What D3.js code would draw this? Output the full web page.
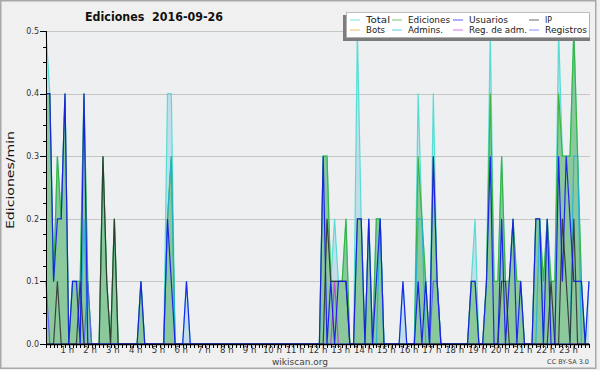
<!DOCTYPE html>
<html>
<head>
<meta charset="utf-8">
<script src="https://cdn.jsdelivr.net/npm/d3@7"></script>
<style>
  body { margin: 0; background: #fff; }
  svg { display: block; }
  text { font-family: "DejaVu Sans", sans-serif; }
</style>
</head>
<body>
<div id="chart"></div>
<script>
// edits per 10 minute slot (144 slots, 00:00 -> 23:50), one row = 4 hours
const total = [
  5,4,1,3,2,4,0,1,1,1,4,1,0,0,0,3,1,0,2,0,0,0,0,0,
  0,1,0,0,0,0,0,0,4,4,0,0,0,1,0,0,0,0,0,0,0,0,0,0,
  0,0,0,0,0,0,0,0,0,0,0,0,0,0,0,0,0,0,0,0,0,0,0,0,
  0,3,3,1,2,1,1,2,0,0,5,2,0,2,0,2,2,0,0,0,0,0,1,0,
  0,0,4,2,1,0,4,1,0,0,0,0,0,0,0,0,1,2,0,0,1,5,1,1,
  3,1,1,2,1,1,0,0,0,2,2,1,2,1,1,5,3,3,3,5,3,1,0,1
];
const ediciones = [
  4,4,1,3,2,4,0,1,1,1,4,1,0,0,0,3,1,0,2,0,0,0,0,0,
  0,1,0,0,0,0,0,0,2,3,0,0,0,0,0,0,0,0,0,0,0,0,0,0,
  0,0,0,0,0,0,0,0,0,0,0,0,0,0,0,0,0,0,0,0,0,0,0,0,
  0,3,3,1,1,1,1,2,0,0,2,2,0,2,0,2,2,0,0,0,0,0,0,0,
  0,0,3,2,1,0,3,1,0,0,0,0,0,0,0,0,1,1,0,0,1,4,1,1,
  3,1,1,2,1,1,0,0,0,2,2,1,2,1,1,4,3,3,3,5,3,1,0,0
];
const usuarios = [
  4,4,1,2,2,4,0,1,1,0,4,0,0,0,0,0,0,0,0,0,0,0,0,0,
  0,1,0,0,0,0,0,0,2,1,0,0,0,1,0,0,0,0,0,0,0,0,0,0,
  0,0,0,0,0,0,0,0,0,0,0,0,0,0,0,0,0,0,0,0,0,0,0,0,
  0,3,0,1,0,1,1,1,0,0,2,2,0,2,0,1,2,0,0,0,0,0,1,0,
  0,0,1,0,1,0,3,1,0,0,0,0,0,0,0,0,1,1,0,0,1,3,0,0,
  2,0,1,2,0,1,0,0,0,2,2,0,2,0,0,3,1,3,2,1,1,1,0,1
];
const ip = [
  0,0,0,1,0,0,0,0,0,1,0,0,0,0,0,3,1,0,2,0,0,0,0,0,
  0,0,0,0,0,0,0,0,0,0,0,0,0,0,0,0,0,0,0,0,0,0,0,0,
  0,0,0,0,0,0,0,0,0,0,0,0,0,0,0,0,0,0,0,0,0,0,0,0,
  0,0,2,1,1,1,1,1,0,0,0,0,0,0,0,0,0,0,0,0,0,0,0,0,
  0,0,0,0,0,0,0,0,0,0,0,0,0,0,0,0,0,0,0,0,0,0,0,0,
  1,1,0,0,0,0,0,0,0,0,0,0,0,1,0,0,2,1,0,2,0,0,0,0
];
const bots = [
  0,0,0,0,0,0,0,0,0,0,0,0,0,0,0,0,0,0,0,0,0,0,0,0,
  0,0,0,0,0,0,0,0,0,0,0,0,0,0,0,0,0,0,0,0,0,0,0,0,
  0,0,0,0,0,0,0,0,0,0,0,0,0,0,0,0,0,0,0,0,0,0,0,0,
  0,0,0,0,0,0,0,0,0,0,0,0,0,0,0,0,0,0,0,0,0,0,0,0,
  0,0,0,0,0,0,0,0,0,0,0,0,0,0,0,0,0,0,0,0,0,0,0,0,
  0,0,0,0,0,0,0,0,0,0,0,0,0,0,0,0,0,0,0,0,0,0,0,0
];
const admins = [
  0,0,0,0,0,0,0,0,0,0,2,0,0,0,0,0,0,0,0,0,0,0,0,0,
  0,0,0,0,0,0,0,0,2,3,0,0,0,0,0,0,0,0,0,0,0,0,0,0,
  0,0,0,0,0,0,0,0,0,0,0,0,0,0,0,0,0,0,0,0,0,0,0,0,
  0,0,0,0,0,0,0,0,0,0,0,0,0,0,0,0,2,0,0,0,0,0,0,0,
  0,0,2,2,0,0,0,0,0,0,0,0,0,0,0,0,0,0,0,0,0,0,0,0,
  0,0,0,0,0,0,0,0,0,0,2,0,0,0,0,0,0,0,0,3,3,0,0,0
];
const regAdm = [
  0,0,0,0,0,0,0,0,0,0,0,0,0,0,0,0,0,0,0,0,0,0,0,0,
  0,0,0,0,0,0,0,0,0,0,0,0,0,0,0,0,0,0,0,0,0,0,0,0,
  0,0,0,0,0,0,0,0,0,0,0,0,0,0,0,0,0,0,0,0,0,0,0,0,
  0,0,0,0,1,0,0,0,0,0,0,0,0,0,0,0,0,0,0,0,0,0,0,0,
  0,0,0,0,0,0,0,0,0,0,0,0,0,0,0,0,0,0,0,0,0,0,0,0,
  0,0,0,0,0,0,0,0,0,0,0,0,0,0,0,0,0,0,0,0,0,0,0,0
];
const registros = [
  1,0,0,0,0,0,0,0,0,0,0,1,0,0,0,0,0,0,0,0,0,0,0,0,
  0,0,0,0,0,0,0,0,0,0,0,0,0,0,0,0,0,0,0,0,0,0,0,0,
  0,0,0,0,0,0,0,0,0,0,0,0,0,0,0,0,0,0,0,0,0,0,0,0,
  0,0,0,0,0,0,0,0,0,0,0,0,0,0,0,0,0,0,0,0,0,0,0,0,
  0,0,0,0,0,0,1,1,0,0,0,0,0,0,0,0,0,0,0,0,0,0,0,0,
  0,0,0,0,0,0,0,0,0,0,0,0,0,0,0,0,0,0,0,0,0,0,0,0
];

const minutesPerSlot = 10;
const slotsPerHour = 6;
const hourLabels = ["1 h","2 h","3 h","4 h","5 h","6 h","7 h","8 h","9 h","10 h","11 h","12 h",
  "13 h","14 h","15 h","16 h","17 h","18 h","19 h","20 h","21 h","22 h","23 h"];
const yTickValues = [0, 0.1, 0.2, 0.3, 0.4, 0.5];
const legendNames = ["Total", "Ediciones", "Usuarios", "IP", "Bots", "Admins.", "Reg. de adm.", "Registros"];

const colors = {
  "Total": "#3fdccf", "Ediciones": "#35b035", "Usuarios": "#1414f0", "IP": "#2b2b2b",
  "Bots": "#f09a30", "Admins.": "#1cb0e0", "Reg. de adm.": "#c83ce0", "Registros": "#5a5aff"
};

const width = 600, height = 370;
const plot = { left: 46, right: 589, top: 31, bottom: 344 };

const svg = d3.select("#chart").append("svg")
  .attr("width", width)
  .attr("height", height);

svg.append("rect").attr("width", width).attr("height", height).attr("fill", "#f0f0f0");
svg.append("rect")
  .attr("x", 0.75).attr("y", 0.75).attr("width", 595).attr("height", 367.5)
  .attr("fill", "none").attr("stroke", "#a8a8a8").attr("stroke-width", 1.5);

const x = d3.scaleLinear().domain([0, total.length - 1]).range([plot.left, plot.right]);
const y = d3.scaleLinear().domain([0, 0.5]).range([plot.bottom, plot.top]);

// plot background + grid
svg.append("rect")
  .attr("x", plot.left).attr("y", plot.top)
  .attr("width", plot.right - plot.left + 1).attr("height", plot.bottom - plot.top)
  .attr("fill", "#edeff1");

svg.append("g").selectAll("line")
  .data(yTickValues.filter(d => d > 0))
  .join("line")
  .attr("x1", plot.left).attr("x2", plot.right + 1)
  .attr("y1", d => Math.round(y(d)) + 0.5).attr("y2", d => Math.round(y(d)) + 0.5)
  .attr("stroke", "#c6c6c6");

const rate = arr => arr.map(v => v / minutesPerSlot);

const area = d3.area()
  .x((d, i) => x(i))
  .y0(plot.bottom)
  .y1(d => y(d));

const line = d3.line()
  .x((d, i) => x(i))
  .y(d => y(d));

const series = svg.append("g");

series.append("path")
  .attr("d", area(rate(total)))
  .attr("fill", "#a8d0e6").attr("fill-opacity", 0.6);

series.append("path")
  .attr("d", area(rate(ediciones)))
  .attr("fill", "#5cb85c").attr("fill-opacity", 0.55);

const lines = [
  ["Total", total, 0.85],
  ["Ediciones", ediciones, 0.9],
  ["Bots", bots, 1],
  ["Reg. de adm.", regAdm, 0.9],
  ["Registros", registros, 0.9],
  ["Admins.", admins, 0.85],
  ["IP", ip, 0.85],
  ["Usuarios", usuarios, 0.9]
];

lines.forEach(([name, values, op]) => {
  series.append("path")
    .attr("d", line(rate(values)))
    .attr("fill", "none")
    .attr("stroke", colors[name])
    .attr("stroke-opacity", op)
    .attr("stroke-width", 1.2)
    .attr("stroke-linejoin", "miter");
});

// y axis
const yAxis = svg.append("g");
yAxis.append("line")
  .attr("x1", plot.left + 0.5).attr("x2", plot.left + 0.5)
  .attr("y1", plot.top).attr("y2", plot.bottom)
  .attr("stroke", "#000");

yAxis.selectAll("line.minor")
  .data(d3.range(0, 21))
  .join("line")
  .attr("class", "minor")
  .attr("x1", d => d % 4 === 0 ? plot.left - 6 : plot.left - 3)
  .attr("x2", plot.left)
  .attr("y1", d => Math.round(y(d * 0.025)) + 0.5)
  .attr("y2", d => Math.round(y(d * 0.025)) + 0.5)
  .attr("stroke", "#000");

yAxis.selectAll("text")
  .data(yTickValues)
  .join("text")
  .attr("x", plot.left - 7)
  .attr("y", d => y(d) + 2.8)
  .attr("text-anchor", "end")
  .attr("font-size", 8)
  .attr("fill", "#333")
  .text(d => d.toFixed(1));

// x axis
const xAxis = svg.append("g");
xAxis.selectAll("line.tick")
  .data(d3.range(0, total.length))
  .join("line")
  .attr("class", "tick")
  .attr("x1", d => Math.round(x(d)) + 0.5).attr("x2", d => Math.round(x(d)) + 0.5)
  .attr("y1", plot.bottom).attr("y2", plot.bottom + 4)
  .attr("stroke", "#000");

xAxis.append("line")
  .attr("x1", plot.left).attr("x2", plot.right + 1)
  .attr("y1", plot.bottom + 0.5).attr("y2", plot.bottom + 0.5)
  .attr("stroke", "#000").attr("stroke-width", 1.5);

xAxis.selectAll("text")
  .data(hourLabels)
  .join("text")
  .attr("x", (d, i) => x((i + 1) * slotsPerHour) - 1.5)
  .attr("y", 353)
  .attr("text-anchor", "middle")
  .attr("font-size", 8.5)
  .attr("fill", "#333")
  .text(d => d);

// titles
svg.append("text")
  .attr("x", 154).attr("y", 20.5)
  .attr("text-anchor", "middle")
  .attr("font-size", 12).attr("font-weight", "bold")
  .attr("fill", "#111")
  .attr("textLength", 138).attr("lengthAdjust", "spacingAndGlyphs")
  .style("white-space", "pre")
  .text("Ediciones  2016-09-26");

svg.append("text")
  .attr("transform", "translate(14,180) rotate(-90)")
  .attr("text-anchor", "middle")
  .attr("font-size", 10.5)
  .attr("fill", "#111")
  .attr("textLength", 98).attr("lengthAdjust", "spacingAndGlyphs")
  .text("Ediciones/min");

svg.append("text")
  .attr("x", 300).attr("y", 364.5)
  .attr("text-anchor", "middle")
  .attr("font-size", 9)
  .attr("fill", "#444")
  .text("wikiscan.org");

svg.append("text")
  .attr("x", 589).attr("y", 364)
  .attr("text-anchor", "end")
  .attr("font-size", 6.5)
  .attr("fill", "#444")
  .text("CC BY-SA 3.0");

// legend
const legend = svg.append("g");
legend.append("rect")
  .attr("x", 343).attr("y", 15).attr("width", 247).attr("height", 26)
  .attr("fill", "#7c7c7c");
legend.append("rect")
  .attr("x", 346.5).attr("y", 12.5).attr("width", 243).attr("height", 25)
  .attr("fill", "#fff").attr("stroke", "#b0b0b0").attr("stroke-width", 0.8);

const legendCols = [366, 408, 469, 545];
const legendRows = [19.5, 29.5];
const legendTextWidth = { "Total": 24, "Ediciones": 42, "Usuarios": 39, "IP": 7,
  "Bots": 19, "Admins.": 35, "Reg. de adm.": 58, "Registros": 42 };

const entries = legend.selectAll("g.entry")
  .data(legendNames)
  .join("g")
  .attr("class", "entry")
  .attr("transform", (d, i) => `translate(${legendCols[i % 4]},${legendRows[Math.floor(i / 4)]})`);

entries.append("line")
  .attr("x1", -16).attr("x2", -6)
  .attr("y1", 0.5).attr("y2", 0.5)
  .attr("stroke", d => colors[d])
  .attr("stroke-opacity", 0.7);

entries.append("text")
  .attr("x", 0).attr("y", 3.5)
  .attr("font-size", 9.5)
  .attr("fill", "#222")
  .attr("textLength", d => legendTextWidth[d])
  .attr("lengthAdjust", "spacingAndGlyphs")
  .text(d => d);
</script>
</body>
</html>
